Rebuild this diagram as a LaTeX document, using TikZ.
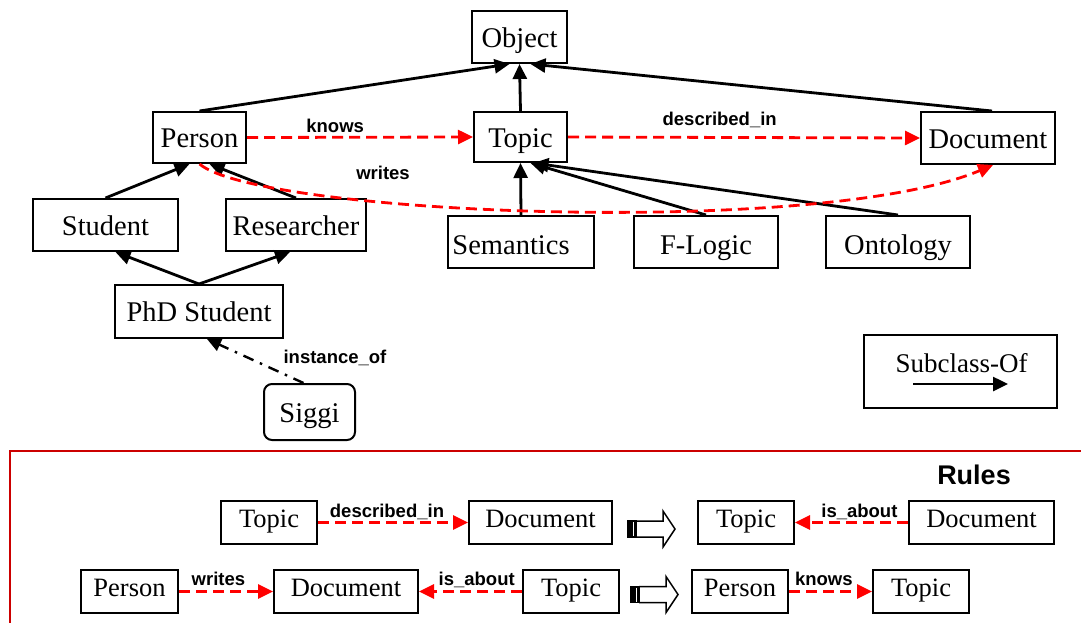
\documentclass[tikz,border=0pt]{standalone}
\usepackage{fontspec}
\setmainfont{Liberation Serif}
\newfontfamily\lblfont{Liberation Sans}
\usetikzlibrary{arrows.meta,calc}
\definecolor{dashred}{RGB}{255,0,0}
\definecolor{framered}{RGB}{204,0,0}
\newcommand\mainsz{\fontsize{28.5}{30}\selectfont}
\newcommand\rulesz{\fontsize{26.5}{28}\selectfont}
\newcommand\lblsz{\lblfont\bfseries\fontsize{18.5}{20}\selectfont}
\newcommand\myimpl[2]{%
  \fill[black] (#1,#2-8) rectangle (#1+8,#2+8);
  \draw[white, line width=1pt] (#1+5.5,#2-7) -- (#1+5.5,#2+7);
  \draw[black, line width=1.5pt, line join=miter, fill=white]
    (#1+8,#2-8) -- (#1+35,#2-8) -- (#1+35,#2-18) -- (#1+47,#2) --
    (#1+35,#2+18) -- (#1+35,#2+8) -- (#1+8,#2+8);
  \draw[black, line width=1.5pt] (#1,#2-8) rectangle (#1+8,#2+8);
}
\begin{document}
\begin{tikzpicture}[x=1pt,y=-1pt,
  box/.style={draw, line width=2pt, inner sep=0pt, font=\mainsz, text height=20pt, text depth=0pt},
  rbox/.style={draw, line width=2pt, inner sep=0pt, font=\rulesz, text height=18pt, text depth=9pt, minimum height=43pt, minimum width=96pt},
  sub/.style={line width=2.8pt, -{Triangle[length=15pt,width=14pt]}},
  rel/.style={draw=dashred, line width=2.8pt, dash pattern=on 11pt off 6pt, -{Triangle[length=15pt,width=14pt,color=dashred]}},
  lbl/.style={font=\lblsz, inner sep=0pt, anchor=base, text=black},
]
\useasboundingbox (0,0) rectangle (1081,622);
\fill[white] (0,0) rectangle (1081,622);

% ---- ontology nodes
\node[box, minimum width=95pt, minimum height=52pt] (obj) at (519.5,37) {Object};
\node[box, minimum width=93pt, minimum height=51pt] (per) at (199.5,137.5) {Person};
\node[box, minimum width=93pt, minimum height=50pt] (top) at (520.5,137) {Topic};
\node[box, minimum width=134pt, minimum height=52pt] (doc) at (988,138) {Document};
\node[box, minimum width=145pt, minimum height=52pt] (stu) at (105.5,225) {Student};
\node[box, minimum width=140pt, minimum height=52pt] (res) at (296,225) {Researcher};
\node[box, minimum width=146pt, minimum height=52pt, text height=25pt] (sem) at (521,242) {Semantics\kern20pt};
\node[box, minimum width=144pt, minimum height=52pt, text height=25pt] (flo) at (706,242) {F-Logic};
\node[box, minimum width=144pt, minimum height=52pt, text height=25pt] (ont) at (898,242) {Ontology};
\node[box, minimum width=168pt, minimum height=53pt] (phd) at (199,311.5) {PhD Student};
\node[box, minimum width=91pt, minimum height=56pt, rounded corners=8pt] (sig) at (309.5,412) {Siggi};

% ---- subclass edges
\draw[sub] (per.north) -- ([xshift=-10pt]obj.south);
\draw[sub] (top.north) -- (obj.south);
\draw[sub] ([xshift=4pt]doc.north) -- ([xshift=11pt]obj.south);
\draw[sub] (stu.north) -- ([xshift=-10pt]per.south);
\draw[sub] (res.north) -- ([xshift=10pt]per.south);
\draw[sub] (phd.north) -- ([xshift=10pt]stu.south);
\draw[sub] (phd.north) -- ([xshift=-6pt]res.south);
\draw[sub] (sem.north) -- (top.south);
\draw[sub] (flo.north) -- ([xshift=10pt]top.south);
\draw[sub] (ont.north) -- ([xshift=13pt]top.south);
\draw[line width=2.4pt, dash pattern=on 11pt off 7pt on 2.5pt off 7pt, -{Triangle[length=14pt,width=13pt]}]
  ([xshift=-6pt]sig.north) -- ([xshift=8pt]phd.south);
\node[lbl] (inst) at (335,363) {instance\_of};

% ---- relations
\draw[rel] (per.east) -- (top.west) node[lbl, pos=0.39, yshift=5pt] (knowsl) {knows};
\draw[rel] (top.east) -- (doc.west) node[lbl, pos=0.431, yshift=11.5pt] (descl) {described\_in};
\draw[rel] (per.south) .. controls (260,215) and (820,238) .. ([xshift=5pt]doc.south);
\node[lbl] (writesl) at (383,179) {writes};

% ---- legend
\node[draw, line width=2pt, minimum width=193pt, minimum height=73pt, inner sep=0pt] (leg) at (960.5,371.5) {};
\node[font=\fontsize{27}{28}\selectfont, anchor=base, inner sep=0pt] (legtxt) at (961.5,372) {Subclass-Of};
\coordinate (lega) at (913,384);
\coordinate (legb) at (1008,384);
\draw[line width=2.5pt, -{Triangle[length=15pt,width=14pt]}] (lega) -- (legb);

% ---- rules frame
\draw[framered, line width=2pt] (10,640) -- (10,451) -- (1100,451);
\node[font=\lblfont\bfseries\fontsize{27}{28}\selectfont, anchor=base, inner sep=0pt] (rules) at (974,484) {Rules};

% rule 1
\node[rbox] (ra) at (269,522.5) {Topic};
\node[rbox, minimum width=143pt] (rb) at (540.5,522.5) {Document};
\node[rbox] (rc) at (746,522.5) {Topic};
\node[rbox, minimum width=145pt] (rd) at (981.5,522.5) {Document};
\draw[rel] (ra.east) -- (rb.west) node[lbl, pos=0.46, yshift=5.5pt] (l1) {described\_in};
\draw[rel] (rd.west) -- (rc.east) node[lbl, pos=0.43, yshift=5.5pt] (l2) {is\_about};
\myimpl{628}{529}

% rule 2
\node[rbox, minimum width=97pt] (sa) at (129.5,591.5) {Person};
\node[rbox, minimum width=144pt] (sb) at (346,591.5) {Document};
\node[rbox] (sc) at (571,591.5) {Topic};
\node[rbox] (sd) at (740,591.5) {Person};
\node[rbox] (se) at (921,591.5) {Topic};
\draw[rel] (sa.east) -- (sb.west) node[lbl, pos=0.42, yshift=6pt] (l3) {writes};
\draw[rel] (sc.west) -- (sb.east) node[lbl, pos=0.44, yshift=6pt] (l4) {is\_about};
\draw[rel] (sd.east) -- (se.west) node[lbl, pos=0.42, yshift=6pt] (l5) {knows};
\myimpl{631}{594.5}
\end{tikzpicture}
\end{document}
